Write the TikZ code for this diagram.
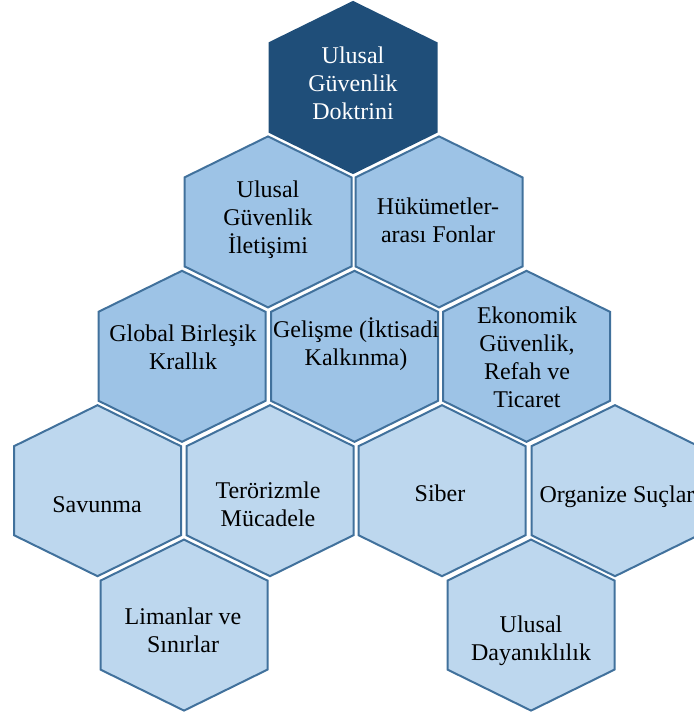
\documentclass[tikz,border=0pt]{standalone}
\usepackage{fontspec}
\setmainfont{Liberation Serif}
\usepackage{tikz}

\definecolor{hexdark}{RGB}{31,78,121}
\definecolor{hexmid}{RGB}{157,195,230}
\definecolor{hexlight}{RGB}{189,215,238}
\definecolor{hexedge}{RGB}{65,113,156}

\begin{document}
\begin{tikzpicture}[x=0.5pt,y=-0.5pt,
   hexa/.pic={\path[pic actions] (0,-85.5) -- (83.5,-44.5) -- (83.5,44.5)
      -- (0,85.5) -- (-83.5,44.5) -- (-83.5,-44.5) -- cycle;},
   toptile/.style={fill=hexdark,draw=hexdark,line width=1pt,line join=miter},
   midtile/.style={fill=hexmid,draw=hexedge,line width=1pt,line join=miter},
   lowtile/.style={fill=hexlight,draw=hexedge,line width=1pt,line join=miter},
   txt/.style={align=center,inner sep=0pt,font=\fontsize{12}{14}\selectfont}]
   \useasboundingbox (0,0) rectangle (693,715);

   % top
   \path pic[toptile] at (353,87.5) {hexa};
   % second row
   \path pic[midtile] at (268,221.9) {hexa};
   \path pic[midtile] at (439,221.9) {hexa};
   % third row
   \path pic[midtile] at (182,356.3) {hexa};
   \path pic[midtile] at (354.5,356.3) {hexa};
   \path pic[midtile] at (526.5,356.3) {hexa};
   % fourth row
   \path pic[lowtile] at (97.5,490.7) {hexa};
   \path pic[lowtile] at (270,490.7) {hexa};
   \path pic[lowtile] at (442,490.7) {hexa};
   \path pic[lowtile] at (615,490.7) {hexa};
   % bottom row
   \path pic[lowtile] at (184,625.1) {hexa};
   \path pic[lowtile] at (531,625.1) {hexa};

   \node[txt,white] (doktrin) at (353,83) {Ulusal\\Güvenlik\\Doktrini};
   \node[txt] (iletisim) at (268,220) {Ulusal\\Güvenlik\\İletişimi};
   \node[txt] (fonlar) at (438,220) {Hükümetler-\\arası Fonlar};
   \node[txt] (global) at (183,347) {Global Birleşik\\Krallık};
   \node[txt] (gelisme) at (356,344) {Gelişme (İktisadi\\Kalkınma)};
   \node[txt] (ekonomi) at (527,357) {Ekonomik\\Güvenlik,\\Refah ve\\Ticaret};
   \node[txt] (savunma) at (97,505) {Savunma};
   \node[txt] (teror) at (268,504) {Terörizmle\\Mücadele};
   \node[txt] (siber) at (440,493) {Siber};
   \node[txt] (organize) at (617,497) {Organize Suçlar};
   \node[txt] (liman) at (183,630) {Limanlar ve\\Sınırlar};
   \node[txt] (dayanik) at (531,641) {Ulusal\\Dayanıklılık};
\end{tikzpicture}
\end{document}
